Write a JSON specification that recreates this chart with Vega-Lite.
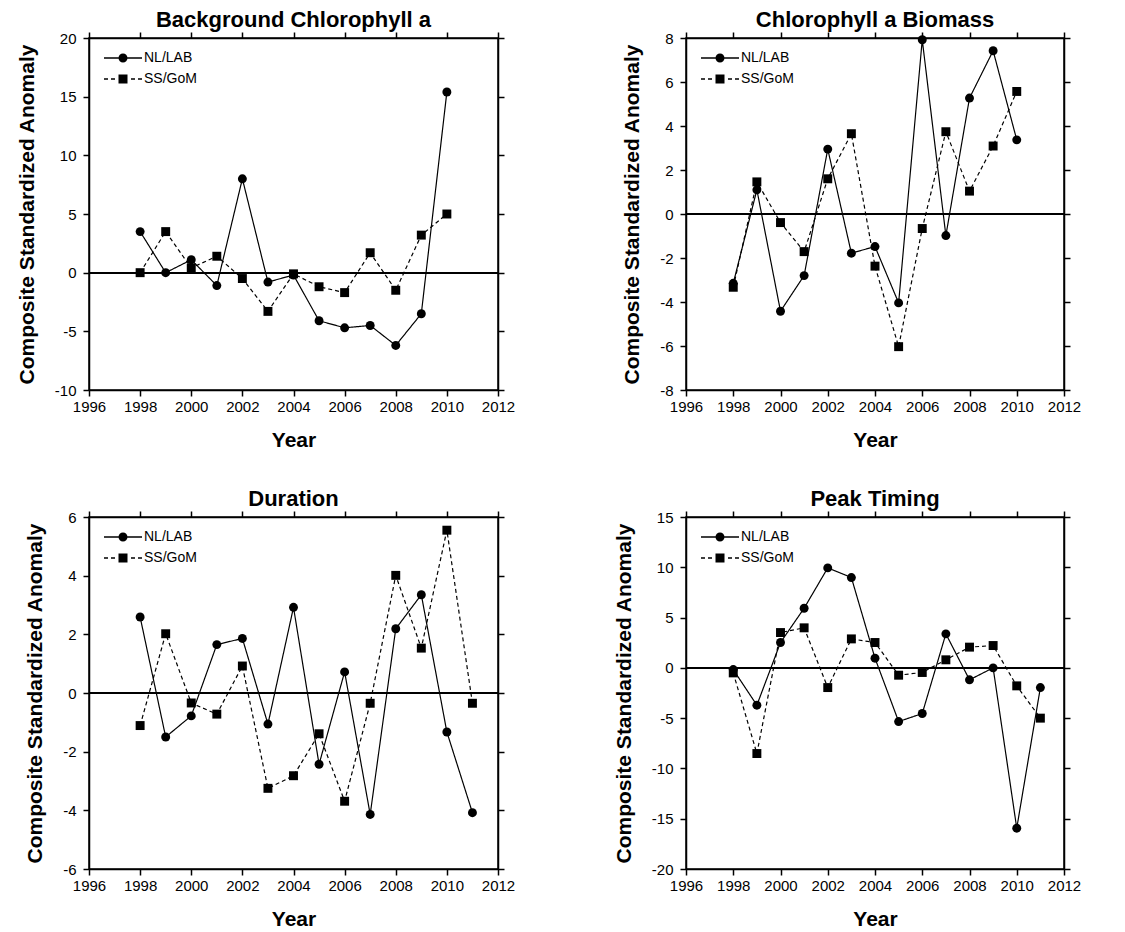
{
  "$schema": "https://vega.github.io/schema/vega-lite/v6.json",
  "background": "white",
  "padding": {"left": 15, "top": 8, "right": 5, "bottom": 5},
  "config": {
    "font": "Liberation Sans",
    "view": {"stroke": "black", "strokeWidth": 1.5},
    "axis": {"domainColor": "black", "domainWidth": 1.5, "tickColor": "black", "tickWidth": 1.5, "tickSize": 6, "labelFont": "Liberation Sans", "labelFontSize": 15, "labelColor": "black", "titleFont": "Liberation Sans", "titleFontSize": 21, "titleFontWeight": "bold", "titleColor": "black", "grid": false, "labelFlush": false, "labelOverlap": false},
    "axisX": {"labelPadding": 3, "titlePadding": 15},
    "axisY": {"labelPadding": 7, "titlePadding": 17, "labelExpr": "'' + datum.value"},
    "title": {"font": "Liberation Sans", "fontSize": 22, "fontWeight": "bold", "color": "black", "offset": -1},
    "legend": {
      "orient": "none", "legendX": 27, "legendY": 13, "title": null, "padding": 0,
      "labelFont": "Liberation Sans", "labelFontSize": 14, "labelColor": "black",
      "symbolSize": 100, "labelOffset": 14, "rowPadding": 7, "symbolStrokeWidth": 0,
      "symbolFillColor": "black",
      "symbolType": {"expr": "datum.value === 'NL/LAB' ? 'M-3.8,-0.13H3.8V0.13H-3.8Z M-0.9,0A0.9,0.9 0 1,1 0.9,0A0.9,0.9 0 1,1 -0.9,0Z' : 'M-3.8,-0.13H-3V0.13H-3.8Z M-2.4,-0.13H-1.6V0.13H-2.4Z M-0.9,-0.9H0.9V0.9H-0.9Z M1.6,-0.13H2.4V0.13H1.6Z M3,-0.13H3.8V0.13H3Z'"}
    }
  },
  "datasets": {
    "bg": [
      {"year": 1998, "series": "NL/LAB", "value": 3.5}, {"year": 1999, "series": "NL/LAB", "value": 0}, {"year": 2000, "series": "NL/LAB", "value": 1.1}, {"year": 2001, "series": "NL/LAB", "value": -1.1}, {"year": 2002, "series": "NL/LAB", "value": 8.0}, {"year": 2003, "series": "NL/LAB", "value": -0.8}, {"year": 2004, "series": "NL/LAB", "value": -0.2}, {"year": 2005, "series": "NL/LAB", "value": -4.1}, {"year": 2006, "series": "NL/LAB", "value": -4.7}, {"year": 2007, "series": "NL/LAB", "value": -4.5}, {"year": 2008, "series": "NL/LAB", "value": -6.2}, {"year": 2009, "series": "NL/LAB", "value": -3.5}, {"year": 2010, "series": "NL/LAB", "value": 15.4},
      {"year": 1998, "series": "SS/GoM", "value": 0}, {"year": 1999, "series": "SS/GoM", "value": 3.5}, {"year": 2000, "series": "SS/GoM", "value": 0.4}, {"year": 2001, "series": "SS/GoM", "value": 1.4}, {"year": 2002, "series": "SS/GoM", "value": -0.5}, {"year": 2003, "series": "SS/GoM", "value": -3.3}, {"year": 2004, "series": "SS/GoM", "value": -0.1}, {"year": 2005, "series": "SS/GoM", "value": -1.2}, {"year": 2006, "series": "SS/GoM", "value": -1.7}, {"year": 2007, "series": "SS/GoM", "value": 1.7}, {"year": 2008, "series": "SS/GoM", "value": -1.5}, {"year": 2009, "series": "SS/GoM", "value": 3.2}, {"year": 2010, "series": "SS/GoM", "value": 5.0}
    ],
    "bio": [
      {"year": 1998, "series": "NL/LAB", "value": -3.15}, {"year": 1999, "series": "NL/LAB", "value": 1.1}, {"year": 2000, "series": "NL/LAB", "value": -4.42}, {"year": 2001, "series": "NL/LAB", "value": -2.8}, {"year": 2002, "series": "NL/LAB", "value": 2.95}, {"year": 2003, "series": "NL/LAB", "value": -1.78}, {"year": 2004, "series": "NL/LAB", "value": -1.48}, {"year": 2005, "series": "NL/LAB", "value": -4.04}, {"year": 2006, "series": "NL/LAB", "value": 7.92}, {"year": 2007, "series": "NL/LAB", "value": -0.98}, {"year": 2008, "series": "NL/LAB", "value": 5.27}, {"year": 2009, "series": "NL/LAB", "value": 7.42}, {"year": 2010, "series": "NL/LAB", "value": 3.37},
      {"year": 1998, "series": "SS/GoM", "value": -3.33}, {"year": 1999, "series": "SS/GoM", "value": 1.46}, {"year": 2000, "series": "SS/GoM", "value": -0.39}, {"year": 2001, "series": "SS/GoM", "value": -1.71}, {"year": 2002, "series": "SS/GoM", "value": 1.6}, {"year": 2003, "series": "SS/GoM", "value": 3.65}, {"year": 2004, "series": "SS/GoM", "value": -2.37}, {"year": 2005, "series": "SS/GoM", "value": -6.03}, {"year": 2006, "series": "SS/GoM", "value": -0.66}, {"year": 2007, "series": "SS/GoM", "value": 3.74}, {"year": 2008, "series": "SS/GoM", "value": 1.04}, {"year": 2009, "series": "SS/GoM", "value": 3.09}, {"year": 2010, "series": "SS/GoM", "value": 5.57}
    ],
    "dur": [
      {"year": 1998, "series": "NL/LAB", "value": 2.59}, {"year": 1999, "series": "NL/LAB", "value": -1.5}, {"year": 2000, "series": "NL/LAB", "value": -0.78}, {"year": 2001, "series": "NL/LAB", "value": 1.65}, {"year": 2002, "series": "NL/LAB", "value": 1.86}, {"year": 2003, "series": "NL/LAB", "value": -1.06}, {"year": 2004, "series": "NL/LAB", "value": 2.92}, {"year": 2005, "series": "NL/LAB", "value": -2.43}, {"year": 2006, "series": "NL/LAB", "value": 0.72}, {"year": 2007, "series": "NL/LAB", "value": -4.14}, {"year": 2008, "series": "NL/LAB", "value": 2.19}, {"year": 2009, "series": "NL/LAB", "value": 3.35}, {"year": 2010, "series": "NL/LAB", "value": -1.33}, {"year": 2011, "series": "NL/LAB", "value": -4.08},
      {"year": 1998, "series": "SS/GoM", "value": -1.11}, {"year": 1999, "series": "SS/GoM", "value": 2.02}, {"year": 2000, "series": "SS/GoM", "value": -0.34}, {"year": 2001, "series": "SS/GoM", "value": -0.72}, {"year": 2002, "series": "SS/GoM", "value": 0.92}, {"year": 2003, "series": "SS/GoM", "value": -3.25}, {"year": 2004, "series": "SS/GoM", "value": -2.82}, {"year": 2005, "series": "SS/GoM", "value": -1.39}, {"year": 2006, "series": "SS/GoM", "value": -3.69}, {"year": 2007, "series": "SS/GoM", "value": -0.35}, {"year": 2008, "series": "SS/GoM", "value": 4.01}, {"year": 2009, "series": "SS/GoM", "value": 1.53}, {"year": 2010, "series": "SS/GoM", "value": 5.55}, {"year": 2011, "series": "SS/GoM", "value": -0.35}
    ],
    "peak": [
      {"year": 1998, "series": "NL/LAB", "value": -0.17}, {"year": 1999, "series": "NL/LAB", "value": -3.71}, {"year": 2000, "series": "NL/LAB", "value": 2.52}, {"year": 2001, "series": "NL/LAB", "value": 5.93}, {"year": 2002, "series": "NL/LAB", "value": 9.94}, {"year": 2003, "series": "NL/LAB", "value": 8.98}, {"year": 2004, "series": "NL/LAB", "value": 0.96}, {"year": 2005, "series": "NL/LAB", "value": -5.34}, {"year": 2006, "series": "NL/LAB", "value": -4.54}, {"year": 2007, "series": "NL/LAB", "value": 3.38}, {"year": 2008, "series": "NL/LAB", "value": -1.19}, {"year": 2009, "series": "NL/LAB", "value": 0}, {"year": 2010, "series": "NL/LAB", "value": -15.94}, {"year": 2011, "series": "NL/LAB", "value": -1.96},
      {"year": 1998, "series": "SS/GoM", "value": -0.5}, {"year": 1999, "series": "SS/GoM", "value": -8.52}, {"year": 2000, "series": "SS/GoM", "value": 3.51}, {"year": 2001, "series": "SS/GoM", "value": 3.98}, {"year": 2002, "series": "SS/GoM", "value": -1.96}, {"year": 2003, "series": "SS/GoM", "value": 2.88}, {"year": 2004, "series": "SS/GoM", "value": 2.52}, {"year": 2005, "series": "SS/GoM", "value": -0.73}, {"year": 2006, "series": "SS/GoM", "value": -0.46}, {"year": 2007, "series": "SS/GoM", "value": 0.8}, {"year": 2008, "series": "SS/GoM", "value": 2.06}, {"year": 2009, "series": "SS/GoM", "value": 2.22}, {"year": 2010, "series": "SS/GoM", "value": -1.79}, {"year": 2011, "series": "SS/GoM", "value": -5.0}
    ]
  },
  "columns": 2,
  "spacing": {"row": 36, "column": 96},
  "resolve": {"scale": {"strokeDash": "independent", "shape": "independent", "color": "independent"}},
  "concat": [
    {
      "width": 409, "height": 352,
      "title": "Background Chlorophyll a",
      "data": {"name": "bg"},
      "layer": [
        {"mark": {"type": "rule", "color": "black", "strokeWidth": 1.4}, "encoding": {"y": {"datum": 0, "type": "quantitative", "scale": {"domain": [-10, 20], "nice": false, "zero": false}, "axis": null}}},
        {"mark": {"type": "line", "color": "black", "strokeWidth": 1.2}, "encoding": {
          "x": {"field": "year", "type": "quantitative", "scale": {"domain": [1996, 2012], "nice": false, "zero": false}, "axis": {"values": [1996, 1998, 2000, 2002, 2004, 2006, 2008, 2010, 2012], "format": "d", "title": "Year"}},
          "y": {"field": "value", "type": "quantitative", "scale": {"domain": [-10, 20], "nice": false, "zero": false}, "axis": {"values": [-10, -5, 0, 5, 10, 15, 20], "title": "Composite Standardized Anomaly"}},
          "strokeDash": {"field": "series", "type": "nominal", "scale": {"range": [[1, 0], [4, 3]]}, "legend": null}
        }},
        {"mark": {"type": "point", "filled": true, "opacity": 1, "size": 80}, "encoding": {
          "x": {"field": "year", "type": "quantitative", "axis": null},
          "y": {"field": "value", "type": "quantitative", "axis": null},
          "shape": {"field": "series", "type": "nominal", "scale": {"range": ["circle", "square"]}, "legend": null},
          "color": {"field": "series", "type": "nominal", "scale": {"domain": ["NL/LAB", "SS/GoM"], "range": ["black", "black"]}}
        }},
        {"mark": {"type": "point", "opacity": 0}, "encoding": {
          "x": {"field": "year", "type": "quantitative", "axis": {"orient": "top", "values": [1996, 1998, 2000, 2002, 2004, 2006, 2008, 2010, 2012], "labels": false, "title": null}},
          "y": {"field": "value", "type": "quantitative", "axis": {"orient": "right", "values": [-10, -5, 0, 5, 10, 15, 20], "labels": false, "title": null}}
        }}
      ],
      "resolve": {"axis": {"x": "independent", "y": "independent"}}
    },
    {
      "width": 378, "height": 352,
      "title": "Chlorophyll a Biomass",
      "data": {"name": "bio"},
      "layer": [
        {"mark": {"type": "rule", "color": "black", "strokeWidth": 1.4}, "encoding": {"y": {"datum": 0, "type": "quantitative", "scale": {"domain": [-8, 8], "nice": false, "zero": false}, "axis": null}}},
        {"mark": {"type": "line", "color": "black", "strokeWidth": 1.2}, "encoding": {
          "x": {"field": "year", "type": "quantitative", "scale": {"domain": [1996, 2012], "nice": false, "zero": false}, "axis": {"values": [1996, 1998, 2000, 2002, 2004, 2006, 2008, 2010, 2012], "format": "d", "title": "Year"}},
          "y": {"field": "value", "type": "quantitative", "scale": {"domain": [-8, 8], "nice": false, "zero": false}, "axis": {"values": [-8, -6, -4, -2, 0, 2, 4, 6, 8], "title": "Composite Standardized Anomaly"}},
          "strokeDash": {"field": "series", "type": "nominal", "scale": {"range": [[1, 0], [4, 3]]}, "legend": null}
        }},
        {"mark": {"type": "point", "filled": true, "opacity": 1, "size": 80}, "encoding": {
          "x": {"field": "year", "type": "quantitative", "axis": null},
          "y": {"field": "value", "type": "quantitative", "axis": null},
          "shape": {"field": "series", "type": "nominal", "scale": {"range": ["circle", "square"]}, "legend": null},
          "color": {"field": "series", "type": "nominal", "scale": {"domain": ["NL/LAB", "SS/GoM"], "range": ["black", "black"]}}
        }},
        {"mark": {"type": "point", "opacity": 0}, "encoding": {
          "x": {"field": "year", "type": "quantitative", "axis": {"orient": "top", "values": [1996, 1998, 2000, 2002, 2004, 2006, 2008, 2010, 2012], "labels": false, "title": null}},
          "y": {"field": "value", "type": "quantitative", "axis": {"orient": "right", "values": [-8, -6, -4, -2, 0, 2, 4, 6, 8], "labels": false, "title": null}}
        }}
      ],
      "resolve": {"axis": {"x": "independent", "y": "independent"}}
    },
    {
      "width": 409, "height": 352,
      "title": "Duration",
      "data": {"name": "dur"},
      "layer": [
        {"mark": {"type": "rule", "color": "black", "strokeWidth": 1.4}, "encoding": {"y": {"datum": 0, "type": "quantitative", "scale": {"domain": [-6, 6], "nice": false, "zero": false}, "axis": null}}},
        {"mark": {"type": "line", "color": "black", "strokeWidth": 1.2}, "encoding": {
          "x": {"field": "year", "type": "quantitative", "scale": {"domain": [1996, 2012], "nice": false, "zero": false}, "axis": {"values": [1996, 1998, 2000, 2002, 2004, 2006, 2008, 2010, 2012], "format": "d", "title": "Year"}},
          "y": {"field": "value", "type": "quantitative", "scale": {"domain": [-6, 6], "nice": false, "zero": false}, "axis": {"values": [-6, -4, -2, 0, 2, 4, 6], "title": "Composite Standardized Anomaly"}},
          "strokeDash": {"field": "series", "type": "nominal", "scale": {"range": [[1, 0], [4, 3]]}, "legend": null}
        }},
        {"mark": {"type": "point", "filled": true, "opacity": 1, "size": 80}, "encoding": {
          "x": {"field": "year", "type": "quantitative", "axis": null},
          "y": {"field": "value", "type": "quantitative", "axis": null},
          "shape": {"field": "series", "type": "nominal", "scale": {"range": ["circle", "square"]}, "legend": null},
          "color": {"field": "series", "type": "nominal", "scale": {"domain": ["NL/LAB", "SS/GoM"], "range": ["black", "black"]}}
        }},
        {"mark": {"type": "point", "opacity": 0}, "encoding": {
          "x": {"field": "year", "type": "quantitative", "axis": {"orient": "top", "values": [1996, 1998, 2000, 2002, 2004, 2006, 2008, 2010, 2012], "labels": false, "title": null}},
          "y": {"field": "value", "type": "quantitative", "axis": {"orient": "right", "values": [-6, -4, -2, 0, 2, 4, 6], "labels": false, "title": null}}
        }}
      ],
      "resolve": {"axis": {"x": "independent", "y": "independent"}}
    },
    {
      "width": 378, "height": 352,
      "title": "Peak Timing",
      "data": {"name": "peak"},
      "layer": [
        {"mark": {"type": "rule", "color": "black", "strokeWidth": 1.4}, "encoding": {"y": {"datum": 0, "type": "quantitative", "scale": {"domain": [-20, 15], "nice": false, "zero": false}, "axis": null}}},
        {"mark": {"type": "line", "color": "black", "strokeWidth": 1.2}, "encoding": {
          "x": {"field": "year", "type": "quantitative", "scale": {"domain": [1996, 2012], "nice": false, "zero": false}, "axis": {"values": [1996, 1998, 2000, 2002, 2004, 2006, 2008, 2010, 2012], "format": "d", "title": "Year"}},
          "y": {"field": "value", "type": "quantitative", "scale": {"domain": [-20, 15], "nice": false, "zero": false}, "axis": {"values": [-20, -15, -10, -5, 0, 5, 10, 15], "title": "Composite Standardized Anomaly"}},
          "strokeDash": {"field": "series", "type": "nominal", "scale": {"range": [[1, 0], [4, 3]]}, "legend": null}
        }},
        {"mark": {"type": "point", "filled": true, "opacity": 1, "size": 80}, "encoding": {
          "x": {"field": "year", "type": "quantitative", "axis": null},
          "y": {"field": "value", "type": "quantitative", "axis": null},
          "shape": {"field": "series", "type": "nominal", "scale": {"range": ["circle", "square"]}, "legend": null},
          "color": {"field": "series", "type": "nominal", "scale": {"domain": ["NL/LAB", "SS/GoM"], "range": ["black", "black"]}}
        }},
        {"mark": {"type": "point", "opacity": 0}, "encoding": {
          "x": {"field": "year", "type": "quantitative", "axis": {"orient": "top", "values": [1996, 1998, 2000, 2002, 2004, 2006, 2008, 2010, 2012], "labels": false, "title": null}},
          "y": {"field": "value", "type": "quantitative", "axis": {"orient": "right", "values": [-20, -15, -10, -5, 0, 5, 10, 15], "labels": false, "title": null}}
        }}
      ],
      "resolve": {"axis": {"x": "independent", "y": "independent"}}
    }
  ]
}
